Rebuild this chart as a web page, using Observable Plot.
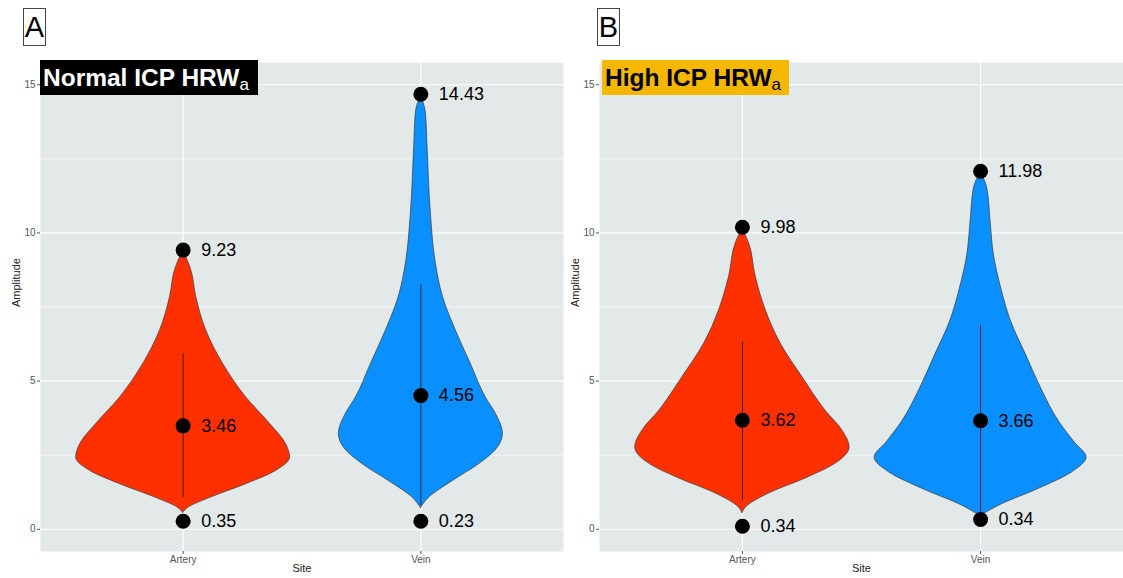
<!DOCTYPE html>
<html>
<head>
<meta charset="utf-8">
<script src="https://cdn.jsdelivr.net/npm/d3@7"></script>
<script src="https://cdn.jsdelivr.net/npm/@observablehq/plot@0.6"></script>
<style>
  html, body { margin: 0; padding: 0; background: #fff; }
  #wrap { position: relative; width: 1123px; height: 578px; overflow: hidden; font-family: "Liberation Sans", Arial, sans-serif; }
  #wrap svg { position: absolute; top: 0; }
  .letter { position: absolute; top: 8px; width: 21px; height: 36px; border: 1px solid #444; font-size: 29px; line-height: 36px; text-align: center; color: #000; }
  .title { position: absolute; top: 60px; height: 35px; line-height: 35px; font-size: 24.5px; font-weight: bold; padding-left: 3px; box-sizing: border-box; white-space: nowrap; }
  .title sub { font-size: 17px; vertical-align: baseline; position: relative; top: 4px; font-weight: normal; }
</style>
</head>
<body>
<div id="wrap"></div>
<script>
// ---- data ----
const sites = ["Artery", "Vein"];
const yTicks = [0, 5, 10, 15];
const yMinorTicks = [2.5, 7.5, 12.5];

// Panel A: Normal ICP HRWa — violin profiles (amplitude, half-width in category units)
const aArteryAmp = [0.55, 0.72, 1.06, 1.52, 1.97, 2.42, 2.87, 3.55, 4.45, 5.58, 6.71, 7.84, 8.75, 9.40];
const aArteryHalfWidth = [0, 0.021, 0.114, 0.265, 0.391, 0.450, 0.433, 0.366, 0.265, 0.168, 0.097, 0.055, 0.034, 0];
const aVeinAmp = [0.72, 1.06, 1.63, 2.19, 2.76, 3.21, 3.89, 4.45, 5.58, 6.71, 7.84, 8.97, 10.67, 12.93, 14.06, 14.62];
const aVeinHalfWidth = [0, 0.034, 0.135, 0.244, 0.324, 0.345, 0.316, 0.273, 0.210, 0.147, 0.093, 0.063, 0.042, 0.028, 0.021, 0];
const aRangeLow = [1.06, 0.80];
const aRangeHigh = [5.92, 8.24];
const aArteryDots = [9.42, 3.49, 0.27];
const aArteryLabels = ["9.23", "3.46", "0.35"];
const aVeinDots = [14.68, 4.51, 0.27];
const aVeinLabels = ["14.43", "4.56", "0.23"];

// Panel B: High ICP HRWa
const bArteryAmp = [0.55, 0.72, 1.18, 1.74, 2.19, 2.76, 3.32, 4.00, 5.13, 6.26, 7.39, 8.52, 9.65, 10.15];
const bArteryHalfWidth = [0, 0.013, 0.105, 0.273, 0.387, 0.450, 0.421, 0.349, 0.252, 0.161, 0.098, 0.056, 0.028, 0];
const bVeinAmp = [0.44, 0.78, 1.35, 1.91, 2.42, 2.93, 3.60, 4.74, 5.86, 6.99, 8.12, 9.25, 10.38, 11.51, 12.05];
const bVeinHalfWidth = [0, 0.073, 0.240, 0.382, 0.445, 0.395, 0.332, 0.255, 0.192, 0.129, 0.087, 0.056, 0.042, 0.028, 0];
const bRangeLow = [0.95, 0.50];
const bRangeHigh = [6.32, 6.88];
const bArteryDots = [10.19, 3.68, 0.10];
const bArteryLabels = ["9.98", "3.62", "0.34"];
const bVeinDots = [12.08, 3.66, 0.33];
const bVeinLabels = ["11.98", "3.66", "0.34"];

const siteColors = ["#FF3000", "#0A8FFF"];

// ---- drawing ----
function profile(amp, hw, pos) {
  return amp.map((v, i) => ({v, lo: pos - hw[i], hi: pos + hw[i]}));
}
function dots(vals, labels, pos) {
  return vals.map((v, i) => ({pos, v, label: labels[i]}));
}

function panel({width, marginLeft, arteryAmp, arteryHW, veinAmp, veinHW, rangeLow, rangeHigh, artDots, artLabels, veinDots, veinLabels}) {
  const violins = [profile(arteryAmp, arteryHW, 1), profile(veinAmp, veinHW, 2)];
  const ranges = sites.map((s, i) => ({pos: i + 1, lo: rangeLow[i], hi: rangeHigh[i]}));
  const pts = [...dots(artDots, artLabels, 1), ...dots(veinDots, veinLabels, 2)];
  return Plot.plot({
    width, height: 578,
    marginLeft, marginRight: 0, marginTop: 62, marginBottom: 27,
    x: {type: "linear", domain: [0.4, 2.6]},
    y: {domain: [-0.75, 15.75]},
    style: {background: "transparent", fontFamily: "'Liberation Sans', Arial, sans-serif", overflow: "visible"},
    marks: [
      Plot.frame({fill: "#E3E8E8", stroke: null}),
      Plot.ruleY(yMinorTicks, {stroke: "white", strokeWidth: 0.6}),
      Plot.ruleY(yTicks, {stroke: "white", strokeWidth: 1.2}),
      Plot.ruleX([1, 2], {stroke: "white", strokeWidth: 1.2}),
      ...violins.map((d, i) => Plot.areaX(d, {y: "v", x1: "lo", x2: "hi", fill: siteColors[i], stroke: "#3a3a3a", strokeWidth: 0.7, curve: "monotone-y"})),
      Plot.ruleX(ranges, {x: "pos", y1: "lo", y2: "hi", stroke: "#222", strokeWidth: 0.9}),
      Plot.dot(pts, {x: "pos", y: "v", r: 7.5, fill: "black", stroke: null}),
      Plot.text(pts, {x: "pos", y: "v", text: "label", dx: 18, textAnchor: "start", fontSize: 18, fill: "black"}),
      Plot.axisY({ticks: yTicks, tickSize: 3, tickPadding: 2, fontSize: 10, color: "#555", label: null}),
      Plot.axisX({ticks: [1, 2], tickFormat: d => sites[d - 1], tickSize: 3, tickPadding: 1, fontSize: 10, color: "#555", label: null}),
      Plot.text(["Amplitude"], {text: d => d, frameAnchor: "left", dx: -24, rotate: -90, fontSize: 11, fill: "#222"}),
      Plot.text(["Site"], {text: d => d, frameAnchor: "bottom", dy: 20, fontSize: 11, fill: "#222"})
    ]
  });
}

const wrap = document.getElementById("wrap");
const svgA = panel({width: 563, marginLeft: 40,
  arteryAmp: aArteryAmp, arteryHW: aArteryHalfWidth, veinAmp: aVeinAmp, veinHW: aVeinHalfWidth,
  rangeLow: aRangeLow, rangeHigh: aRangeHigh,
  artDots: aArteryDots, artLabels: aArteryLabels, veinDots: aVeinDots, veinLabels: aVeinLabels});
svgA.style.left = "0px";
const svgB = panel({width: 560, marginLeft: 36,
  arteryAmp: bArteryAmp, arteryHW: bArteryHalfWidth, veinAmp: bVeinAmp, veinHW: bVeinHalfWidth,
  rangeLow: bRangeLow, rangeHigh: bRangeHigh,
  artDots: bArteryDots, artLabels: bArteryLabels, veinDots: bVeinDots, veinLabels: bVeinLabels});
svgB.style.left = "563px";
wrap.appendChild(svgA);
wrap.appendChild(svgB);

function addDiv(cls, html, styles) {
  const d = document.createElement("div");
  d.className = cls;
  d.innerHTML = html;
  Object.assign(d.style, styles);
  wrap.appendChild(d);
}
addDiv("letter", "A", {left: "23px"});
addDiv("letter", "B", {left: "597px"});
addDiv("title", "Normal ICP HRW<sub>a</sub>", {left: "40px", width: "218px", background: "#000", color: "#fff"});
addDiv("title", "High ICP HRW<sub>a</sub>", {left: "602px", width: "187px", background: "#F5B700", color: "#000"});
</script>
</body>
</html>
